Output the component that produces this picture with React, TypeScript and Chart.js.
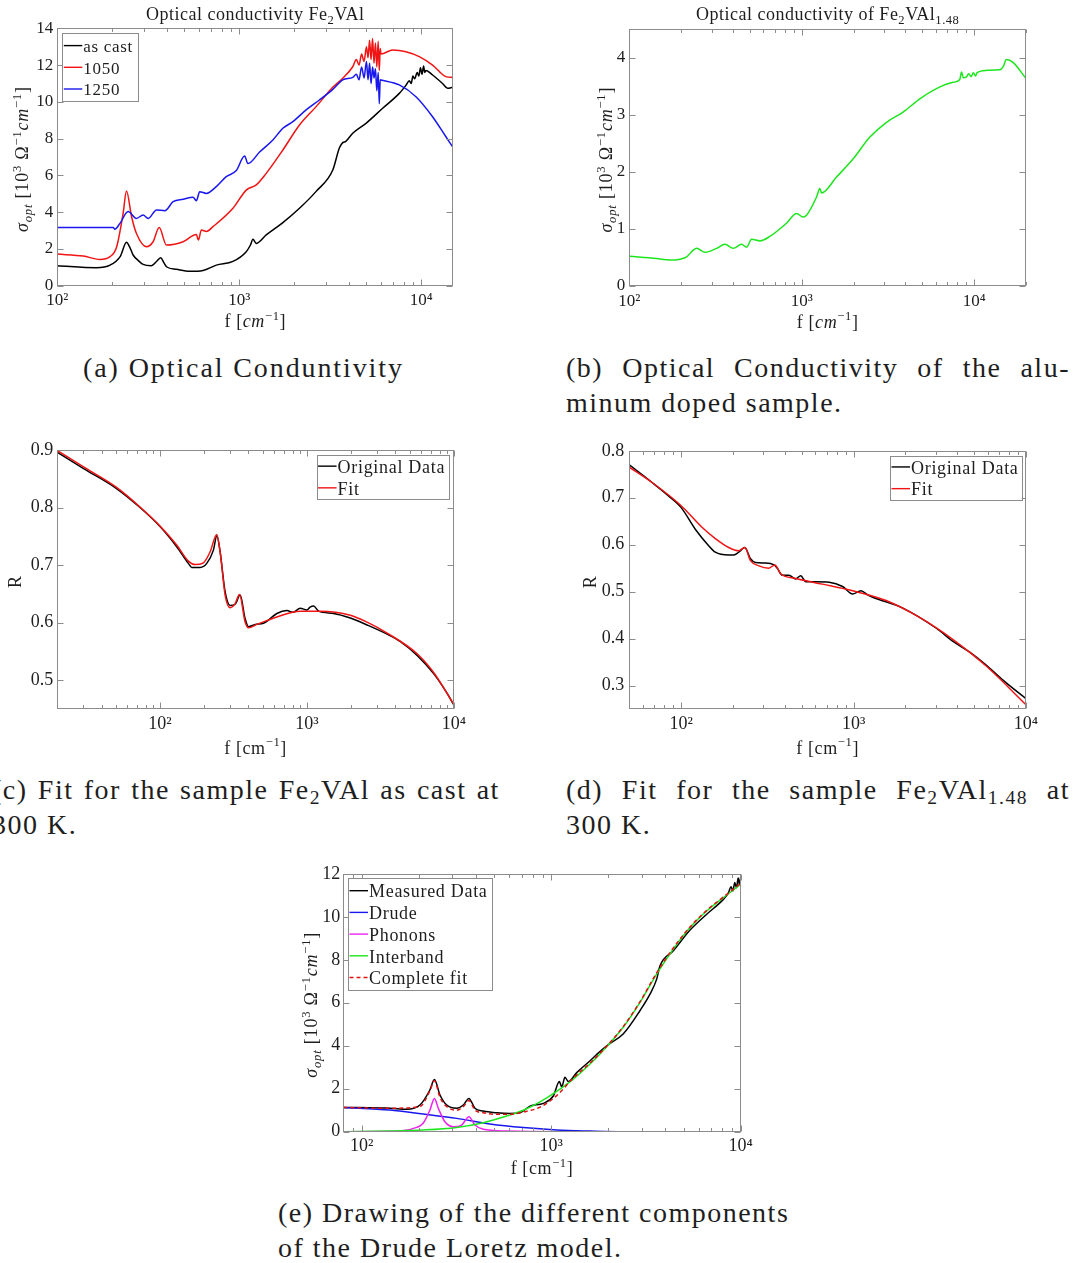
import React, { useEffect, useRef } from 'react';
import { Chart, registerables } from 'chart.js';

Chart.register(...registerables);

// ---------------- data: (a) optical conductivity Fe2VAl ----------------
const A_CAST_F = [100, 164, 195, 222, 240, 250, 261, 280, 296, 329, 350, 370, 385, 398, 451, 534, 632, 748, 923, 1092, 1150, 1189, 1240, 1406, 1736, 2142, 2645, 3264, 3551, 3704, 3850, 4201, 4971, 6137, 7573, 8239, 8600, 8800, 9000, 9200, 9500, 9700, 9900, 10100, 10300, 10450, 10606, 11540, 13090, 13950, 14850];
const A_CAST_S = [1.09, 0.98, 1.12, 1.6, 2.36, 2.1, 1.67, 1.35, 1.16, 1.09, 1.3, 1.52, 1.25, 1.03, 0.89, 0.78, 0.83, 1.12, 1.32, 1.85, 2.2, 2.52, 2.3, 2.76, 3.43, 4.21, 5.13, 6.29, 7.5, 7.78, 7.85, 8.29, 8.83, 9.65, 10.46, 10.9, 11.15, 11.0, 11.4, 11.25, 11.6, 11.4, 11.85, 11.5, 11.95, 11.6, 11.7, 11.46, 11.0, 10.74, 10.79];
const A_1050_F = [100, 139, 171, 195, 212, 230, 240, 256, 272, 309, 336, 363, 398, 491, 581, 596, 619, 660, 717, 923, 1092, 1240, 1406, 1736, 2142, 2645, 3264, 3704, 4201, 4400, 4550, 4700, 4850, 5000, 5100, 5200, 5300, 5400, 5500, 5600, 5700, 5800, 5880, 5950, 6010, 6964, 8239, 9750, 11540, 13660, 14850];
const A_1050_S = [1.72, 1.61, 1.43, 1.58, 2.12, 3.94, 5.15, 3.75, 2.85, 2.12, 2.39, 3.16, 2.21, 2.39, 2.79, 2.48, 3.03, 2.95, 3.21, 4.21, 5.2, 5.48, 6.11, 7.38, 8.74, 9.74, 10.79, 11.28, 11.91, 12.3, 12.0, 12.6, 12.2, 13.0, 12.4, 13.35, 12.3, 13.45, 12.1, 13.2, 11.9, 13.3, 11.7, 12.9, 12.6, 12.82, 12.73, 12.46, 12.0, 11.37, 11.33];
const A_1250_F = [100, 203, 207, 221, 245, 272, 296, 316, 351, 390, 433, 491, 557, 581, 606, 659, 748, 848, 963, 1070, 1116, 1293, 1530, 1736, 1970, 2330, 2758, 3264, 3704, 4201, 4400, 4550, 4700, 4850, 5000, 5100, 5200, 5300, 5400, 5500, 5600, 5700, 5800, 5880, 5950, 6010, 7573, 9350, 11540, 13660, 14850];
const A_1250_S = [3.16, 3.16, 3.07, 3.39, 4.03, 3.66, 3.84, 3.66, 4.12, 4.08, 4.57, 4.7, 4.81, 4.62, 5.11, 5.02, 5.39, 5.93, 6.26, 7.05, 6.64, 7.27, 7.93, 8.56, 8.92, 9.56, 10.1, 10.68, 11.19, 11.33, 11.5, 11.2, 11.9, 11.3, 12.2, 11.2, 12.1, 11.0, 11.9, 11.3, 11.8, 10.6, 11.6, 9.9, 11.2, 11.19, 10.92, 10.28, 9.19, 8.1, 7.56];

// ---------------- data: (b) Fe2VAl1.48 ----------------
const B_F = [100, 144, 172, 197, 215, 235, 246, 275, 321, 359, 401, 448, 479, 512, 572, 654, 816, 933, 1020, 1067, 1219, 1275, 1304, 1592, 1990, 2485, 3105, 3874, 4842, 6049, 7555, 8260, 8450, 8660, 9000, 9300, 9600, 9900, 10200, 10400, 11780, 14090, 14730, 15390, 16820, 19950];
const B_S = [0.52, 0.48, 0.455, 0.47, 0.51, 0.63, 0.66, 0.59, 0.66, 0.73, 0.66, 0.73, 0.68, 0.82, 0.79, 0.87, 1.1, 1.27, 1.21, 1.24, 1.56, 1.71, 1.63, 1.91, 2.23, 2.61, 2.87, 3.05, 3.28, 3.46, 3.57, 3.62, 3.75, 3.65, 3.66, 3.72, 3.67, 3.74, 3.68, 3.74, 3.78, 3.79, 3.84, 3.97, 3.92, 3.64];

// ---------------- data: (c) reflectivity fit Fe2VAl ----------------
const C_DATA_F = [20, 30, 50.6, 73.1, 100, 129.9, 156, 164.4, 187.4, 208.1, 231, 243.5, 256.6, 277.4, 300.2, 324.6, 351.1, 379.7, 400.4, 444.3, 506.4, 624.5, 730.5, 800, 900.6, 1000, 1050, 1110, 1201, 1520, 1975, 2566, 3512, 4329, 5623, 7305, 9006, 10000];
const C_DATA_R = [0.896, 0.868, 0.833, 0.8, 0.767, 0.732, 0.703, 0.696, 0.696, 0.703, 0.726, 0.751, 0.723, 0.654, 0.63, 0.632, 0.648, 0.607, 0.593, 0.597, 0.599, 0.616, 0.621, 0.618, 0.625, 0.622, 0.627, 0.629, 0.62, 0.616, 0.608, 0.596, 0.58, 0.567, 0.543, 0.511, 0.477, 0.457];
const C_FIT_F = [20, 30, 50.6, 73.1, 100, 129.9, 156, 173.2, 197.5, 219.3, 243.5, 256.6, 277.4, 300.2, 324.6, 347.5, 379.7, 400.4, 456.1, 624.5, 900.6, 1233, 1975, 2566, 3512, 5623, 7305, 10000];
const C_FIT_R = [0.899, 0.871, 0.835, 0.801, 0.768, 0.735, 0.707, 0.701, 0.704, 0.723, 0.753, 0.723, 0.648, 0.626, 0.633, 0.649, 0.601, 0.591, 0.597, 0.61, 0.62, 0.62, 0.613, 0.601, 0.582, 0.546, 0.513, 0.458];

// ---------------- data: (d) reflectivity fit Fe2VAl1.48 ----------------
const D_DATA_F = [50, 67.5, 84.4, 100, 120.7, 144.3, 157.8, 188.7, 201.8, 215.8, 233.9, 252.4, 269.9, 308.5, 345.1, 360.9, 385.9, 421.9, 461.5, 493.4, 527.7, 603.5, 721.7, 863.1, 986.7, 1103, 1207, 1291, 1930, 3017, 3773, 4719, 5901, 7379, 10000];
const D_DATA_R = [0.77, 0.733, 0.704, 0.679, 0.633, 0.598, 0.584, 0.578, 0.578, 0.584, 0.594, 0.57, 0.562, 0.561, 0.557, 0.55, 0.535, 0.535, 0.527, 0.534, 0.521, 0.521, 0.52, 0.511, 0.495, 0.502, 0.493, 0.488, 0.465, 0.422, 0.394, 0.371, 0.343, 0.311, 0.272];
const D_FIT_F = [50, 67.5, 100, 132, 157.8, 188.7, 215.8, 233.9, 252.4, 282.2, 322.6, 349.8, 377.4, 461.5, 659.8, 986.7, 1543, 2413, 3773, 5901, 10000];
const D_FIT_R = [0.765, 0.733, 0.683, 0.637, 0.613, 0.594, 0.587, 0.594, 0.566, 0.555, 0.55, 0.557, 0.538, 0.528, 0.516, 0.502, 0.481, 0.445, 0.398, 0.341, 0.259];

// ---------------- data: (e) Drude-Lorentz components ----------------
const E_MEAS_F = [80, 141, 173, 203, 229, 242, 259, 281, 317, 344, 368, 396, 438, 516, 606, 684, 773, 909, 1026, 1105, 1136, 1183, 1232, 1364, 1604, 1740, 1963, 2404, 2944, 3327, 3607, 3751, 4413, 5404, 6617, 8103, 8600, 8900, 9100, 9300, 9500, 9700, 9850, 10000];
const E_MEAS_S = [1.13, 1.09, 1.04, 1.24, 1.94, 2.43, 1.71, 1.24, 1.09, 1.24, 1.55, 1.09, 0.96, 0.88, 0.85, 0.88, 1.19, 1.32, 1.66, 2.33, 2.09, 2.53, 2.33, 2.75, 3.3, 3.6, 4.0, 4.56, 5.64, 6.41, 7.11, 7.72, 8.42, 9.38, 10.12, 10.81, 11.1, 11.4, 11.2, 11.6, 11.35, 11.8, 11.5, 11.85];
const E_DRUDE_F = [80, 141, 211, 317, 475, 713, 1069, 1604, 2404, 10000];
const E_DRUDE_S = [1.13, 1.01, 0.82, 0.62, 0.36, 0.19, 0.08, 0.03, 0.0, 0.0];
const E_PHON_F = [80, 159, 195, 211, 229, 242, 254, 275, 305, 337, 368, 396, 438, 582, 1069, 10000];
const E_PHON_S = [0, 0.03, 0.2, 0.39, 1.0, 1.55, 1.08, 0.46, 0.23, 0.31, 0.7, 0.31, 0.11, 0.03, 0, 0];
const E_INTER_F = [80, 141, 211, 317, 438, 582, 713, 873, 1069, 1309, 1604, 1963, 2404, 2944, 3607, 4413, 5404, 6617, 8103, 10000];
const E_INTER_S = [0.0, 0.03, 0.08, 0.2, 0.42, 0.73, 1.0, 1.39, 1.88, 2.45, 3.15, 3.95, 4.87, 6.02, 7.34, 8.5, 9.5, 10.27, 10.89, 11.51];
const E_FIT_F = [80, 141, 203, 229, 242, 259, 281, 317, 344, 368, 396, 438, 516, 606, 713, 873, 1069, 1309, 1604, 1963, 2404, 2944, 3607, 4413, 5404, 6617, 8103, 10000];
const E_FIT_S = [1.13, 1.09, 1.17, 1.9, 2.37, 1.6, 1.17, 1.0, 1.17, 1.45, 1.0, 0.88, 0.81, 0.81, 0.92, 1.14, 1.68, 2.5, 3.2, 3.98, 4.9, 6.05, 7.4, 8.55, 9.53, 10.3, 10.92, 11.55];

// ---------------- ticks ----------------
const LOG_TICKS = [100, 1000, 10000];
const LOG_LABELS = ['10²', '10³', '10⁴'];
const A_Y_TICKS = [0, 2, 4, 6, 8, 10, 12, 14];
const B_Y_TICKS = [0, 1, 2, 3, 4];
const C_Y_TICKS = [0.5, 0.6, 0.7, 0.8, 0.9];
const D_Y_TICKS = [0.3, 0.4, 0.5, 0.6, 0.7, 0.8];
const E_Y_TICKS = [0, 2, 4, 6, 8, 10, 12];

// ---------------- styling ----------------
const SERIF = '"Liberation Serif", "Times New Roman", serif';
const INK = '#1e1e1e';
const FRAME = '#8c8c8c';
const BLACK = '#000000';
const RED = '#f01414';
const BLUE = '#1818ee';
const GREEN = '#1ee61e';
const MAGENTA = '#ee22ee';

type Seg = { t: string; s?: 'sup' | 'sub'; i?: boolean };

function segFont(seg: Seg, size: number) {
  const sz = seg.s ? size * 0.7 : size;
  return `${seg.i ? 'italic ' : ''}${sz}px ${SERIF}`;
}

function drawRich(ctx: any, segs: Seg[], x: number, y: number, size: number, rotate = false, ls = 0.5, align: 'center' | 'left' = 'center') {
  ctx.save();
  ctx.translate(x, y);
  if (rotate) ctx.rotate(-Math.PI / 2);
  ctx.fillStyle = INK;
  ctx.textBaseline = 'alphabetic';
  ctx.textAlign = 'left';
  try { ctx.letterSpacing = ls + 'px'; } catch (e) { /* ignore */ }
  const widths = segs.map((seg) => { ctx.font = segFont(seg, size); return ctx.measureText(seg.t).width; });
  const total = widths.reduce((a, b) => a + b, 0);
  let cx = align === 'center' ? -total / 2 : 0;
  const base = size * 0.32;
  segs.forEach((seg, k) => {
    ctx.font = segFont(seg, size);
    const dy = seg.s === 'sup' ? -size * 0.42 : seg.s === 'sub' ? size * 0.22 : 0;
    ctx.fillText(seg.t, cx, base + dy);
    cx += widths[k];
  });
  ctx.restore();
}

const sigmaLabel = (italicCm: boolean): Seg[] => [
  { t: 'σ', i: true }, { t: 'opt', s: 'sub', i: true }, { t: ' [10' }, { t: '3', s: 'sup' }, { t: ' Ω' }, { t: '−1', s: 'sup' },
  { t: 'cm', i: italicCm }, { t: '−1', s: 'sup' }, { t: ']' },
];
const freqLabel = (italicCm: boolean): Seg[] => [{ t: 'f [' }, { t: 'cm', i: italicCm }, { t: '−1', s: 'sup' }, { t: ']' }];

type Series = { name: string; f: number[]; v: number[]; color: string; dash?: number[] };
type LegendSpec = { side: 'left' | 'right'; dx: number; dy: number; w: number; h: number; size: number; rows: { segs: Seg[]; color: string; dash?: number[] }[] };
type Panel = {
  id: string; left: number; top: number; w: number; h: number;
  plot: { L: number; T: number; R: number; B: number };
  xMin: number; xMax: number; yMin: number; yMax: number;
  yTicks: number[]; yLabels: string[]; tickSize: number; yPad: number; xPad: number;
  series: Series[];
  title?: Seg[]; titleDy?: number;
  xTitle: Seg[]; xTitleDy: number; yTitle: Seg[]; yTitleDx: number; yTitleRot: boolean;
  legend?: LegendSpec;
};

function decorPlugin(p: Panel) {
  return {
    id: 'decor' + p.id,
    afterDatasetsDraw(chart: any) {
      const { ctx, chartArea: a } = chart;
      const xs = chart.scales.x;
      const ys = chart.scales.y;
      const L = Math.round(a.left) + 0.5, R = Math.round(a.right) - 0.5;
      const T = Math.round(a.top) + 0.5, B = Math.round(a.bottom) - 0.5;
      ctx.save();
      ctx.strokeStyle = FRAME;
      ctx.lineWidth = 1;
      ctx.strokeRect(L, T, R - L, B - T);
      ctx.beginPath();
      const d0 = Math.floor(Math.log10(p.xMin));
      const d1 = Math.ceil(Math.log10(p.xMax));
      for (let d = d0; d <= d1; d++) {
        for (let k = 1; k <= 9; k++) {
          const v = k * Math.pow(10, d);
          if (v < p.xMin * 0.999 || v > p.xMax * 1.001) continue;
          const px = Math.round(xs.getPixelForValue(v)) + 0.5;
          const len = k === 1 ? 6 : 3.5;
          ctx.moveTo(px, B); ctx.lineTo(px, B - len);
          ctx.moveTo(px, T); ctx.lineTo(px, T + len);
        }
      }
      for (const v of p.yTicks) {
        const py = Math.round(ys.getPixelForValue(v)) + 0.5;
        ctx.moveTo(L, py); ctx.lineTo(L + 6, py);
        ctx.moveTo(R, py); ctx.lineTo(R - 6, py);
      }
      ctx.stroke();
      ctx.restore();
    },
    afterDraw(chart: any) {
      const { ctx, chartArea: a } = chart;
      const cxm = (a.left + a.right) / 2;
      const cym = (a.top + a.bottom) / 2;
      if (p.title) drawRich(ctx, p.title, cxm, a.top - (p.titleDy || 14), 18, false, 0.5);
      drawRich(ctx, p.xTitle, cxm, a.bottom + p.xTitleDy, 18, false, 0.6);
      drawRich(ctx, p.yTitle, a.left - p.yTitleDx, cym + 2, 18, p.yTitleRot, 0.8);
      const lg = p.legend;
      if (lg) {
        const bx = lg.side === 'left' ? a.left + lg.dx : a.right - lg.dx - lg.w;
        const by = a.top + lg.dy;
        ctx.save();
        ctx.fillStyle = '#ffffff';
        ctx.fillRect(bx, by, lg.w, lg.h);
        ctx.strokeStyle = FRAME;
        ctx.lineWidth = 1;
        ctx.strokeRect(Math.round(bx) + 0.5, Math.round(by) + 0.5, Math.round(lg.w), Math.round(lg.h));
        const gap = 21.7;
        const first = (lg.h - (lg.rows.length - 1) * gap) / 2;
        lg.rows.forEach((row, i) => {
          const ry = by + first + i * gap;
          ctx.beginPath();
          ctx.strokeStyle = row.color;
          ctx.lineWidth = 1.4;
          ctx.setLineDash(row.dash || []);
          ctx.moveTo(bx + 1.5, ry);
          ctx.lineTo(bx + 20, ry);
          ctx.stroke();
          ctx.setLineDash([]);
          drawRich(ctx, row.segs, bx + 21, ry + 1, lg.size, false, 0.7, 'left');
        });
        ctx.restore();
      }
    },
  };
}

function buildConfig(p: Panel): any {
  const datasets = p.series.slice().reverse().map((s) => ({
    label: s.name,
    data: s.f.map((f, i) => ({ x: f, y: s.v[i] })),
    borderColor: s.color,
    backgroundColor: s.color,
    borderWidth: 1.5,
    borderDash: s.dash || [],
    pointRadius: 0,
    fill: false,
    cubicInterpolationMode: 'monotone',
  }));
  const font = { family: SERIF, size: p.tickSize };
  return {
    type: 'line',
    data: { datasets },
    options: {
      responsive: false,
      animation: false,
      events: [],
      layout: { padding: { left: 0, top: p.plot.T, right: p.w - p.plot.R, bottom: 0 } },
      plugins: { legend: { display: false }, tooltip: { enabled: false }, title: { display: false } },
      scales: {
        x: {
          type: 'logarithmic', min: p.xMin, max: p.xMax, bounds: 'data',
          grid: { display: false, drawTicks: false }, border: { display: false },
          afterBuildTicks: (s: any) => { s.ticks = LOG_TICKS.map((v) => ({ value: v })); },
          afterFit: (s: any) => { s.height = p.h - p.plot.B; },
          ticks: { autoSkip: false, maxRotation: 0, minRotation: 0, padding: p.xPad, font, color: INK, callback: (_v: any, i: number) => LOG_LABELS[i] },
        },
        y: {
          type: 'linear', min: p.yMin, max: p.yMax, bounds: 'data',
          grid: { display: false, drawTicks: false }, border: { display: false },
          afterBuildTicks: (s: any) => { s.ticks = p.yTicks.map((v) => ({ value: v })); },
          afterFit: (s: any) => { s.width = p.plot.L; },
          ticks: { autoSkip: false, padding: p.yPad, font, color: INK, callback: (_v: any, i: number) => p.yLabels[i] },
        },
      },
    },
    plugins: [decorPlugin(p)],
  };
}

const PANELS: Panel[] = [
  {
    id: 'a', left: 0, top: 0, w: 470, h: 340,
    plot: { L: 57.3, T: 28.3, R: 453.3, B: 285.7 },
    xMin: 100, xMax: 15000, yMin: 0, yMax: 14,
    yTicks: A_Y_TICKS, yLabels: A_Y_TICKS.map(String), tickSize: 17, yPad: 4, xPad: 5,
    series: [
      { name: 'as cast', f: A_CAST_F, v: A_CAST_S, color: BLACK },
      { name: '1050', f: A_1050_F, v: A_1050_S, color: RED },
      { name: '1250', f: A_1250_F, v: A_1250_S, color: BLUE },
    ],
    title: [{ t: 'Optical conductivity Fe' }, { t: '2', s: 'sub' }, { t: 'VAl' }], titleDy: 14.3,
    xTitle: freqLabel(true), xTitleDy: 36, yTitle: sigmaLabel(true), yTitleDx: 35, yTitleRot: true,
    legend: {
      side: 'left', dx: 5, dy: 5, w: 76, h: 68, size: 17,
      rows: [
        { segs: [{ t: 'as cast' }], color: BLACK },
        { segs: [{ t: '1050' }], color: RED },
        { segs: [{ t: '1250' }], color: BLUE },
      ],
    },
  },
  {
    id: 'b', left: 570, top: 0, w: 508, h: 340,
    plot: { L: 59.3, T: 29.3, R: 456, B: 286 },
    xMin: 100, xMax: 20000, yMin: 0, yMax: 4.5,
    yTicks: B_Y_TICKS, yLabels: B_Y_TICKS.map(String), tickSize: 17, yPad: 4, xPad: 5,
    series: [{ name: 'Fe2VAl1.48', f: B_F, v: B_S, color: GREEN }],
    title: [{ t: 'Optical conductivity of Fe' }, { t: '2', s: 'sub' }, { t: 'VAl' }, { t: '1.48', s: 'sub' }], titleDy: 15.3,
    xTitle: freqLabel(true), xTitleDy: 36, yTitle: sigmaLabel(true), yTitleDx: 22.6, yTitleRot: true,
  },
  {
    id: 'c', left: 0, top: 435, w: 470, h: 330,
    plot: { L: 57.3, T: 15, R: 454, B: 274 },
    xMin: 20, xMax: 10000, yMin: 0.45, yMax: 0.9,
    yTicks: C_Y_TICKS, yLabels: C_Y_TICKS.map((v) => v.toFixed(1)), tickSize: 18, yPad: 4, xPad: 4,
    series: [
      { name: 'Original Data', f: C_DATA_F, v: C_DATA_R, color: BLACK },
      { name: 'Fit', f: C_FIT_F, v: C_FIT_R, color: RED },
    ],
    xTitle: freqLabel(false), xTitleDy: 39, yTitle: [{ t: 'R' }], yTitleDx: 42, yTitleRot: true,
    legend: {
      side: 'right', dx: 5.7, dy: 5, w: 131.6, h: 44, size: 18,
      rows: [
        { segs: [{ t: 'Original Data' }], color: BLACK },
        { segs: [{ t: 'Fit' }], color: RED },
      ],
    },
  },
  {
    id: 'd', left: 570, top: 435, w: 508, h: 330,
    plot: { L: 59.3, T: 15, R: 456, B: 274 },
    xMin: 50, xMax: 10000, yMin: 0.25, yMax: 0.8,
    yTicks: D_Y_TICKS, yLabels: D_Y_TICKS.map((v) => v.toFixed(1)), tickSize: 18, yPad: 5, xPad: 4,
    series: [
      { name: 'Original Data', f: D_DATA_F, v: D_DATA_R, color: BLACK },
      { name: 'Fit', f: D_FIT_F, v: D_FIT_R, color: RED },
    ],
    xTitle: freqLabel(false), xTitleDy: 39, yTitle: [{ t: 'R' }], yTitleDx: 39, yTitleRot: true,
    legend: {
      side: 'right', dx: 4.3, dy: 5, w: 131.7, h: 44, size: 18,
      rows: [
        { segs: [{ t: 'Original Data' }], color: BLACK },
        { segs: [{ t: 'Fit' }], color: RED },
      ],
    },
  },
  {
    id: 'e', left: 290, top: 860, w: 470, h: 330,
    plot: { L: 53.3, T: 12.7, R: 450.7, B: 271.7 },
    xMin: 80, xMax: 10000, yMin: 0, yMax: 12,
    yTicks: E_Y_TICKS, yLabels: E_Y_TICKS.map(String), tickSize: 18, yPad: 3, xPad: 4,
    series: [
      { name: 'Measured Data', f: E_MEAS_F, v: E_MEAS_S, color: BLACK },
      { name: 'Drude', f: E_DRUDE_F, v: E_DRUDE_S, color: BLUE },
      { name: 'Phonons', f: E_PHON_F, v: E_PHON_S, color: MAGENTA },
      { name: 'Interband', f: E_INTER_F, v: E_INTER_S, color: GREEN },
      { name: 'Complete fit', f: E_FIT_F, v: E_FIT_S, color: '#dd1111', dash: [4, 3] },
    ],
    xTitle: freqLabel(false), xTitleDy: 37, yTitle: sigmaLabel(true), yTitleDx: 31.6, yTitleRot: true,
    legend: {
      side: 'left', dx: 4.7, dy: 4.3, w: 144.3, h: 112, size: 18,
      rows: [
        { segs: [{ t: 'Measured Data' }], color: BLACK },
        { segs: [{ t: 'Drude' }], color: BLUE },
        { segs: [{ t: 'Phonons' }], color: MAGENTA },
        { segs: [{ t: 'Interband' }], color: GREEN },
        { segs: [{ t: 'Complete fit' }], color: '#dd1111', dash: [4, 3] },
      ],
    },
  },
];

function ChartPanel({ p }: { p: Panel }) {
  const ref = useRef<HTMLCanvasElement | null>(null);
  useEffect(() => {
    const chart = new Chart(ref.current as HTMLCanvasElement, buildConfig(p));
    return () => chart.destroy();
  }, [p]);
  return (
    <canvas
      ref={ref}
      width={p.w}
      height={p.h}
      style={{ position: 'absolute', left: p.left, top: p.top, width: p.w, height: p.h }}
    />
  );
}

const CAP: any = {
  position: 'absolute', fontFamily: SERIF, fontSize: 28, lineHeight: '35px', color: INK,
  letterSpacing: '1.5px', whiteSpace: 'nowrap', margin: 0,
};
const SUB: any = { fontSize: '0.7em', verticalAlign: '-0.25em', lineHeight: 0 };

function JLine({ left, top, width, children }: any) {
  return (
    <div style={{ ...CAP, left, top, width, display: 'flex', justifyContent: 'space-between' }}>
      {children}
    </div>
  );
}

function Words({ text }: { text: string }) {
  return <>{text.split(' ').map((w, i) => <span key={i}>{w}</span>)}</>;
}

export default function App() {
  return (
    <div style={{ position: 'absolute', left: 0, top: 0, width: 1078, height: 1263, overflow: 'hidden', background: '#ffffff' }}>
      {PANELS.map((p) => <ChartPanel key={p.id} p={p} />)}

      <div style={{ ...CAP, left: 83, top: 350, letterSpacing: '1.9px' }}>(a) Optical Conduntivity</div>

      <JLine left={566} top={350} width={504}><Words text="(b) Optical Conductivity of the alu-" /></JLine>
      <div style={{ ...CAP, left: 566, top: 385 }}>minum doped sample.</div>

      <JLine left={-8} top={772} width={508}>
        <Words text="(c) Fit for the sample" />
        <span>Fe<sub style={SUB}>2</sub>VAl</span>
        <Words text="as cast at" />
      </JLine>
      <div style={{ ...CAP, left: -8, top: 807 }}>300 K.</div>

      <JLine left={566} top={772} width={504}>
        <Words text="(d) Fit for the sample" />
        <span>Fe<sub style={SUB}>2</sub>VAl<sub style={SUB}>1.48</sub></span>
        <span>at</span>
      </JLine>
      <div style={{ ...CAP, left: 566, top: 807 }}>300 K.</div>

      <div style={{ ...CAP, left: 278, top: 1195 }}>(e) Drawing of the different components</div>
      <div style={{ ...CAP, left: 278, top: 1230 }}>of the Drude Loretz model.</div>
    </div>
  );
}
